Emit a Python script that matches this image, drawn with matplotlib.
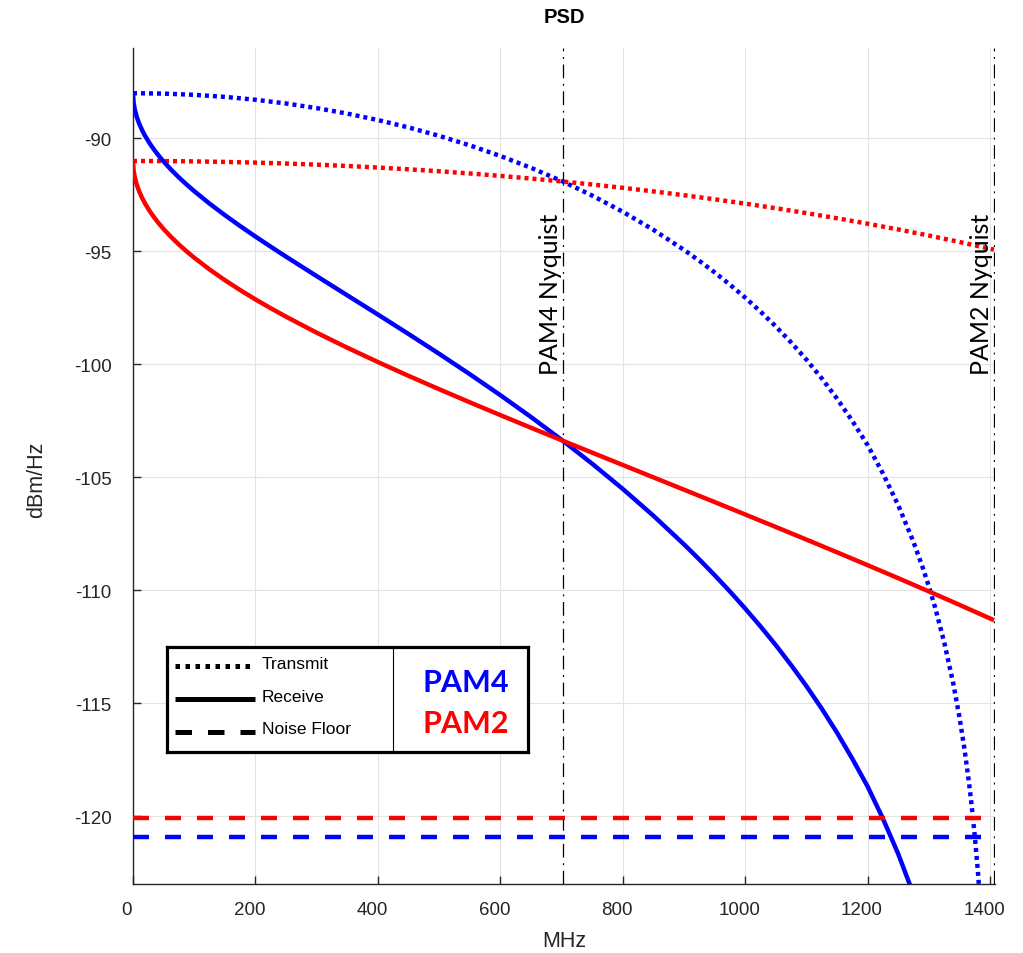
import matplotlib
matplotlib.use("Agg")
import matplotlib.pyplot as plt
import matplotlib.transforms as mtransforms

# ---------------- data ----------------
freq_tx_pam4 = [0, 50, 100, 150, 200, 250, 300, 350, 400, 450, 500, 550, 600, 650,
                703.125, 750, 800, 850, 900, 925, 950, 975, 1000, 1025, 1050, 1075,
                1100, 1125, 1150, 1175, 1200, 1225, 1250, 1275, 1290, 1300, 1310, 1325,
                1340, 1350, 1358, 1365, 1370, 1375, 1380, 1385]
tx_pam4 = [-88.000, -88.018, -88.072, -88.163, -88.291, -88.456, -88.660, -88.904,
           -89.188, -89.516, -89.888, -90.308, -90.778, -91.301, -91.922, -92.531,
           -93.248, -94.046, -94.935, -95.418, -95.930, -96.473, -97.051, -97.667,
           -98.323, -99.033, -99.793, -100.621, -101.520, -102.509, -103.576,
           -104.836, -106.239, -107.873, -109.002, -109.832, -110.744, -112.296,
           -114.150, -115.625, -117.005, -118.402, -119.558, -120.878, -122.420,
           -124.28]

freq_tx_pam2 = [0, 50, 100, 150, 200, 250, 300, 350, 400, 450, 500, 550, 600, 650,
                703.125, 750, 800, 850, 900, 950, 1000, 1050, 1100, 1150, 1200, 1250,
                1300, 1350, 1406.25]
tx_pam2 = [-91.000, -91.005, -91.018, -91.041, -91.072, -91.113, -91.163, -91.222,
           -91.291, -91.369, -91.456, -91.553, -91.660, -91.777, -91.912, -92.041,
           -92.188, -92.347, -92.516, -92.696, -92.888, -93.092, -93.308, -93.536,
           -93.778, -94.032, -94.301, -94.585, -94.922]

freq_rx_pam4 = [0, 1, 3, 6, 10, 15, 20, 27, 35, 42, 50, 62, 75, 87, 100, 125, 150, 175,
                200, 225, 250, 300, 350, 400, 450, 500, 550, 600, 650, 703.125, 750,
                800, 850, 900, 925, 950, 975, 1000, 1025, 1050, 1075, 1100, 1125, 1150,
                1175, 1200, 1225, 1250, 1275, 1300]
rx_pam4 = [-88.000, -88.423, -88.733, -89.037, -89.341, -89.644, -89.900, -90.211,
           -90.522, -90.767, -91.025, -91.379, -91.729, -92.029, -92.336, -92.886,
           -93.396, -93.880, -94.345, -94.795, -95.235, -96.096, -96.946, -97.796,
           -98.656, -99.533, -100.434, -101.365, -102.330, -103.404, -104.399,
           -105.515, -106.701, -107.967, -108.635, -109.329, -110.052, -110.809,
           -111.600, -112.430, -113.312, -114.242, -115.239, -116.304, -117.458,
           -118.688, -120.110, -121.673, -123.466, -125.582]

freq_rx_pam2 = [0, 1, 3, 6, 10, 15, 20, 27, 35, 42, 50, 62, 75, 87, 100, 125, 150, 175,
                200, 225, 250, 300, 350, 400, 450, 500, 550, 600, 650, 703.125, 750,
                800, 850, 900, 950, 1000, 1050, 1100, 1150, 1200, 1250, 1300, 1350,
                1406.25]
rx_pam2 = [-91.000, -91.423, -91.733, -92.037, -92.340, -92.642, -92.897, -93.207,
           -93.513, -93.758, -94.012, -94.358, -94.698, -94.988, -95.282, -95.801,
           -96.274, -96.713, -97.126, -97.518, -97.892, -98.600, -99.264, -99.899,
           -100.509, -101.101, -101.679, -102.247, -102.806, -103.394, -103.909,
           -104.455, -105.002, -105.548, -106.095, -106.646, -107.199, -107.757,
           -108.320, -108.890, -109.466, -110.051, -110.645, -111.324]

noise_x = [0, 1390]
noise_pam2 = [-120.1, -120.1]
noise_pam4 = [-120.9, -120.9]

nyquist_freqs = [703.125, 1406.25]
nyquist_labels = ["PAM4 Nyquist", "PAM2 Nyquist"]

x_ticks = [0, 200, 400, 600, 800, 1000, 1200, 1400]
y_ticks = [-120, -115, -110, -105, -100, -95, -90]

legend_styles = ["Transmit", "Receive", "Noise Floor"]
legend_series = ["PAM4", "PAM2"]

# ---------------- styling ----------------
BLUE = "#0000ff"
RED = "#ff0000"
DARK = "#262626"
W, H = 1023, 954
plt.rcParams["font.family"] = ["Liberation Sans", "DejaVu Sans"]

fig = plt.figure(figsize=(W / 100, H / 100), dpi=100)
ax = fig.add_axes([133 / W, 1 - 885 / H, (995 - 133) / W, (885 - 49) / H])

LW = 3.2
dotted = (0, (0.9, 0.9))
dashed = (0, (3.6, 3.6))

ax.plot(freq_tx_pam4, tx_pam4, color=BLUE, lw=LW, linestyle=dotted, dash_capstyle="butt", zorder=3)
ax.plot(freq_tx_pam2, tx_pam2, color=RED, lw=LW, linestyle=dotted, dash_capstyle="butt", zorder=3)
ax.plot(freq_rx_pam4, rx_pam4, color=BLUE, lw=LW, solid_capstyle="butt",
        solid_joinstyle="round", zorder=3)
ax.plot(freq_rx_pam2, rx_pam2, color=RED, lw=LW, solid_capstyle="butt",
        solid_joinstyle="round", zorder=3)
ax.plot(noise_x, noise_pam2, color=RED, lw=LW, linestyle=dashed, dash_capstyle="butt", zorder=3)
ax.plot(noise_x, noise_pam4, color=BLUE, lw=LW, linestyle=dashed, dash_capstyle="butt", zorder=3)

for fq in nyquist_freqs:
    ax.axvline(fq, color="black", lw=0.9, linestyle=(0, (11, 4.5, 1.5, 4.5)), zorder=2)

trans = mtransforms.blended_transform_factory(ax.transData, ax.transAxes)
for fq, lab in zip(nyquist_freqs, nyquist_labels):
    off = mtransforms.offset_copy(trans, fig=fig, x=-1, y=0, units="dots")
    ax.text(fq, 0.803, lab, rotation=90, ha="right", va="top", transform=off,
            fontsize=18, family=["Lato", "DejaVu Sans"], color="black", zorder=4)

ax.set_xlim(0, 1408)
ax.set_ylim(-123, -86)
ax.set_xticks(x_ticks)
ax.set_yticks(y_ticks)
ax.set_xticklabels([str(v) for v in x_ticks])
ax.set_yticklabels([str(v) for v in y_ticks])
ax.grid(True, color="#e3e3e3", lw=0.8, zorder=0)
ax.set_axisbelow(True)
for s in ["top", "right"]:
    ax.spines[s].set_visible(False)
for s in ["left", "bottom"]:
    ax.spines[s].set_color(DARK)
    ax.spines[s].set_linewidth(1.0)
ax.tick_params(axis="both", direction="in", length=6, width=1.0, color=DARK,
               labelsize=13.5, labelcolor=DARK)
ax.tick_params(axis="x", pad=12)
ax.tick_params(axis="y", pad=15.5)
shift = mtransforms.ScaledTranslation(-6 / 100, 0, fig.dpi_scale_trans)
for lbl in ax.get_xticklabels():
    lbl.set_transform(lbl.get_transform() + shift)

fig.text(564 / W, 1 - 17.5 / H, "PSD", fontsize=14.5, fontweight="bold", ha="center", va="center")
fig.text(564 / W, 1 - 942 / H, "MHz", fontsize=15.5, color=DARK, ha="center", va="center")
fig.text(37 / W, 1 - 480 / H, "dBm/Hz", fontsize=15.5, color=DARK, ha="center", va="center", rotation=90)

# ---------------- custom legend box ----------------
lx0, ly0, lx1, ly1 = 167, 648, 528, 753
lax = fig.add_axes([lx0 / W, 1 - ly1 / H, (lx1 - lx0) / W, (ly1 - ly0) / H])
lax.set_xlim(0, lx1 - lx0)
lax.set_ylim(ly1 - ly0, 0)
lax.set_xticks([])
lax.set_yticks([])
lax.set_facecolor("white")
for s in lax.spines.values():
    s.set_linewidth(2.3)
    s.set_color("black")
lax.axvline(226, color="black", lw=0.8)

LLW = 3.6
sample_styles = [(0, (0.9, 1.1)), "-", (0, (3.3, 3.2))]
sample_y = [18.7, 52, 84.7]
label_base = [21.3, 53.7, 86.3]
for name, ls, yy, yb in zip(legend_styles, sample_styles, sample_y, label_base):
    lax.plot([8, 88], [yy, yy], color="black", lw=LLW, linestyle=ls,
             dash_capstyle="butt", solid_capstyle="butt")
    lax.text(94.7, yb, name, fontsize=12.5, ha="left", va="baseline", color="black")

series_colors = [BLUE, RED]
series_base = [43.7, 85.3]
for name, c, yb in zip(legend_series, series_colors, series_base):
    lax.text(298.5, yb, name, fontsize=22, fontweight="bold", color=c,
             family=["Lato", "DejaVu Sans"], ha="center", va="baseline")

fig.savefig("out.png", dpi=100)
